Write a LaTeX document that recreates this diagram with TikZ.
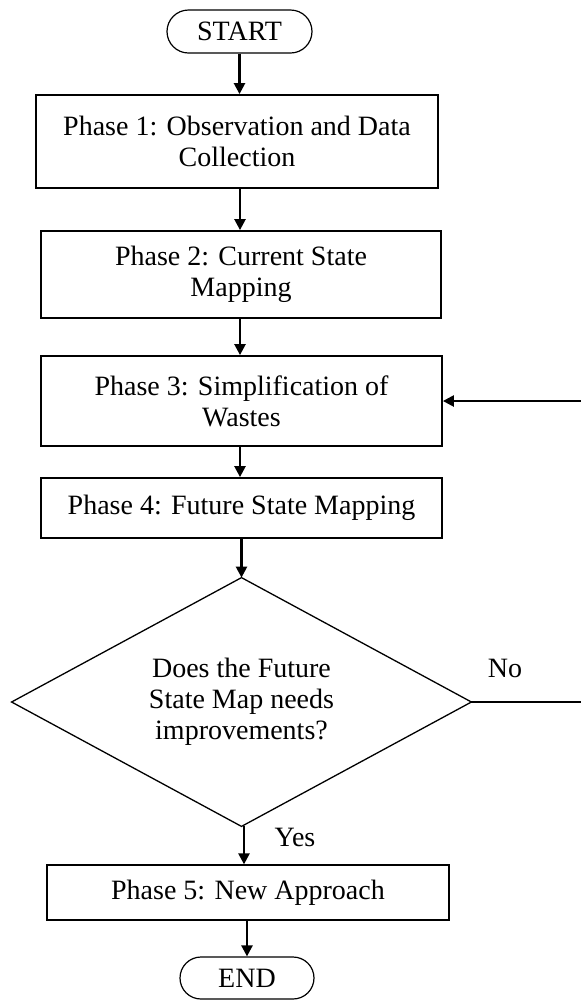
\documentclass[tikz,border=0pt]{standalone}
\usepackage{fontspec}
\setmainfont{Liberation Serif}
\usetikzlibrary{arrows.meta,shapes.misc}
\begin{document}
\begin{tikzpicture}[x=0.5pt,y=-0.5pt,
  font=\fontsize{14pt}{15.5pt}\selectfont,
  phase/.style={draw, line width=0.9pt, align=center, inner sep=0pt},
  terminal/.style={draw, line width=0.6pt, rounded rectangle, inner sep=0pt},
  decision/.style={align=center, inner sep=0pt},
  outline/.style={line width=0.65pt, line join=miter},
  flow/.style={line width=1.2pt, -{Triangle[length=5.5pt,width=5.5pt]}},
  link/.style={line width=0.7pt}]
\useasboundingbox (0,0) rectangle (580,1008);

% process steps
\node[terminal, minimum width=72.5pt, minimum height=21.5pt] (start) at (239.5,31.5) {START};
\node[phase, minimum width=201pt, minimum height=46.5pt] (p1) at (237,141.5)
  {Phase 1: Observation and Data\\Collection};
\node[phase, minimum width=200pt, minimum height=43.5pt] (p2) at (241,274.5)
  {Phase 2: Current State\\Mapping};
\node[phase, minimum width=200.5pt, minimum height=45pt] (p3) at (241.5,401)
  {Phase 3: Simplification of\\Wastes};
\node[phase, minimum width=200.5pt, minimum height=30pt] (p4) at (241.5,508)
  {Phase 4: Future State Mapping};
% decision: the diamond joins the mid-points of the node's box
\node[decision, minimum width=229.5pt, minimum height=124pt] (dec) at (241.5,702)
  {Does the Future\\State Map needs\\improvements?};
\draw[outline] (dec.north) -- (dec.east) -- (dec.south) -- (dec.west) -- cycle;
\node[phase, minimum width=201pt, minimum height=27.5pt] (p5) at (248,892.75)
  {Phase 5: New Approach};
\node[terminal, minimum width=67pt, minimum height=21pt] (end) at (247,978) {END};

% branch labels
\node (no) at (505,668) {No};
\node (yes) at (295,837) {Yes};

% main flow
\draw[flow] (start.south) -- (start.south |- p1.north);
\draw[flow] (p1.south -| 240,0) -- (p2.north -| 240,0);
\draw[flow] (p2.south -| 240,0) -- (p3.north -| 240,0);
\draw[flow] (p3.south -| 240,0) -- (p4.north -| 240,0);
\draw[flow] (p4.south -| dec.north) -- (dec.north);
\draw[flow] (dec.south -| 244,0) -- (p5.north -| 244,0);
\draw[flow] (end.north |- p5.south) -- (end.north);

% loop back when the map needs improvements
\coordinate (loopR) at (584,702);
\coordinate (loopT) at (584,401);
\draw[link] (dec.east) -- (loopR) -- (loopT);
\draw[flow] (loopT) -- (p3.east);
\end{tikzpicture}
\end{document}
